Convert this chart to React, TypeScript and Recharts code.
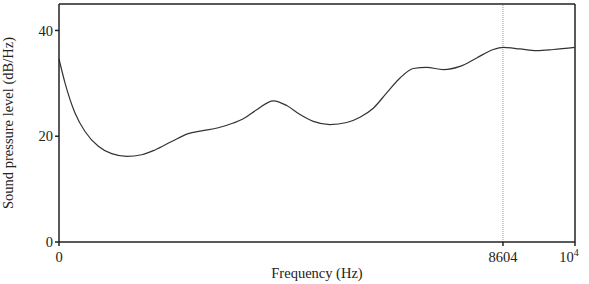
import { LineChart, Line, XAxis, YAxis, ReferenceLine } from "recharts";

const frequency = [
  0, 116, 310, 504, 762, 1021, 1312, 1603, 1860, 2184, 2506, 2765, 3087, 3378,
  3572, 3831, 4153, 4413, 4671, 4928, 5252, 5576, 5833, 6091, 6351, 6609, 6866,
  7126, 7448, 7771, 8095, 8417, 8611, 8934, 9258, 9579, 10000,
];
const level = [
  34.6, 30.1, 24.4, 20.9, 18.1, 16.7, 16.2, 16.5, 17.4, 19.0, 20.5, 21.0, 21.6,
  22.5, 23.3, 25.0, 26.7, 25.8, 24.1, 22.8, 22.2, 22.6, 23.6, 25.3, 28.2, 31.0,
  32.8, 33.0, 32.6, 33.2, 34.8, 36.4, 36.8, 36.5, 36.2, 36.4, 36.8,
];
const xTicks = [0, 8604, 10000];
const yTicks = [0, 20, 40];
const marker = 8604;

const data = frequency.map((f, i) => ({ f, db: level[i] }));

const FONT = "'Liberation Serif', 'Times New Roman', serif";
const FS = 14.5;

const XTick = ({ x, y, payload }: any) => {
  if (payload.value === 10000) {
    return (
      <text x={x} y={y + 14} textAnchor="middle" fontFamily={FONT} fontSize={FS} fill="#222">
        10<tspan dy={-6} fontSize={10}>4</tspan>
      </text>
    );
  }
  return (
    <text x={x} y={y + 14} textAnchor="middle" fontFamily={FONT} fontSize={FS} fill="#222">
      {payload.value}
    </text>
  );
};

export default function App() {
  return (
    <div style={{ position: "absolute", left: 0, top: 0, background: "#fff" }}>
      <LineChart
        width={589}
        height={284}
        data={data}
        margin={{ top: 4, right: 14, bottom: 14, left: 0 }}
      >
        <XAxis
          dataKey="f"
          type="number"
          domain={[0, 10000]}
          ticks={xTicks}
          tick={<XTick />}
          tickSize={4}
          height={28}
          stroke="#222"
          strokeWidth={1.5}
          label={{
            value: "Frequency (Hz)",
            position: "insideBottom",
            offset: -8,
            style: { fontFamily: FONT, fontSize: FS, fill: "#222" },
          }}
        />
        <YAxis
          type="number"
          domain={[0, 45]}
          ticks={yTicks}
          tickSize={4}
          width={59}
          stroke="#222"
          strokeWidth={1.5}
          tick={{ fontFamily: FONT, fontSize: FS, fill: "#222" }}
          label={{
            value: "Sound pressure level (dB/Hz)",
            angle: -90,
            position: "insideLeft",
            offset: 8,
            style: { fontFamily: FONT, fontSize: FS, fill: "#222", textAnchor: "middle" },
          }}
        />
        <ReferenceLine y={45} stroke="#222" strokeWidth={1.5} />
        <ReferenceLine x={10000} stroke="#222" strokeWidth={1.5} />
        <ReferenceLine x={marker} stroke="#999" strokeDasharray="1 1" />
        <Line
          type="monotone"
          dataKey="db"
          stroke="#333"
          strokeWidth={1.2}
          dot={false}
          isAnimationActive={false}
        />
      </LineChart>
    </div>
  );
}
